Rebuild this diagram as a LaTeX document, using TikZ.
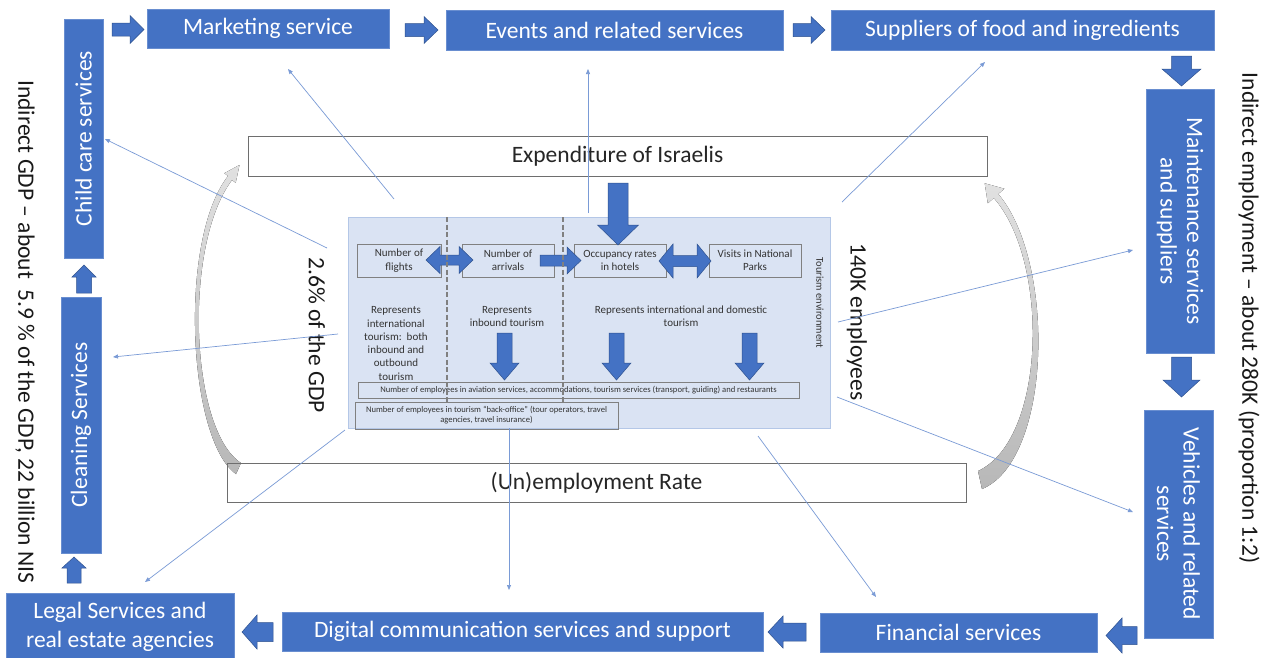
\documentclass[tikz,border=0pt]{standalone}
\usepackage{fontspec}
\setmainfont{Carlito}
\usetikzlibrary{arrows.meta}
\definecolor{boxblue}{HTML}{4472C4}
\definecolor{arrowedge}{HTML}{2F528F}
\definecolor{panelfill}{HTML}{DAE3F3}
\definecolor{paneledge}{HTML}{B4C7E7}
\definecolor{thinblue}{HTML}{7A9BD6}
\definecolor{innergray}{HTML}{808080}
\definecolor{framegray}{HTML}{6E6E6E}
\newcommand{\fBig}{\fontsize{23.5}{27}\selectfont}
\newcommand{\fMid}{\fontsize{11}{13.3}\selectfont}
\newcommand{\fTiny}{\fontsize{8.6}{10}\selectfont}
\newcommand{\fEnv}{\fontsize{10.5}{12}\selectfont}
% block arrows: right, left, down, up, double
\newcommand{\arrR}[6]{\filldraw[blockarrow] (#1,#3-#4) -- (#2-#6,#3-#4) -- (#2-#6,#3-#5) -- (#2,#3) -- (#2-#6,#3+#5) -- (#2-#6,#3+#4) -- (#1,#3+#4) -- cycle;}
\newcommand{\arrL}[6]{\filldraw[blockarrow] (#2,#3-#4) -- (#1+#6,#3-#4) -- (#1+#6,#3-#5) -- (#1,#3) -- (#1+#6,#3+#5) -- (#1+#6,#3+#4) -- (#2,#3+#4) -- cycle;}
\newcommand{\arrD}[6]{\filldraw[blockarrow] (#1-#4,#2) -- (#1-#4,#3-#6) -- (#1-#5,#3-#6) -- (#1,#3) -- (#1+#5,#3-#6) -- (#1+#4,#3-#6) -- (#1+#4,#2) -- cycle;}
\newcommand{\arrU}[6]{\filldraw[blockarrow] (#1-#4,#3) -- (#1-#4,#2+#6) -- (#1-#5,#2+#6) -- (#1,#2) -- (#1+#5,#2+#6) -- (#1+#4,#2+#6) -- (#1+#4,#3) -- cycle;}
\newcommand{\arrLR}[6]{\filldraw[blockarrow] (#1,#3) -- (#1+#6,#3-#5) -- (#1+#6,#3-#4) -- (#2-#6,#3-#4) -- (#2-#6,#3-#5) -- (#2,#3) -- (#2-#6,#3+#5) -- (#2-#6,#3+#4) -- (#1+#6,#3+#4) -- (#1+#6,#3+#5) -- cycle;}
\begin{document}
\begin{tikzpicture}[x=1pt,y=-1pt,
  bluebox/.style={fill=boxblue,draw=boxblue!80!white,line width=0.6pt,text=white,inner sep=0pt,align=center,font=\fBig},
  whitebox/.style={draw=framegray,line width=1pt,inner sep=0pt,text=black!85,font=\fBig},
  innerbox/.style={draw=innergray,line width=0.7pt,inner sep=0pt,align=center,text=black!80,font=\fMid},
  plaintext/.style={inner sep=0pt,align=center,text=black!80,font=\fMid},
  blockarrow/.style={fill=boxblue,draw=arrowedge,line width=0.5pt},
  thinarrow/.style={draw=thinblue,line width=0.7pt,-{Triangle[length=5pt,width=4pt]}},
  sidelabel/.style={inner sep=0pt,font=\fBig,text=black!90},
  dashline/.style={draw=innergray,line width=1.6pt,dash pattern=on 5pt off 2.5pt},
  grayarrow/.style={top color=black!12,middle color=black!4,bottom color=black!28,draw=none}
]
\clip (0,0) rectangle (1274,657);
\fill[white] (0,0) rectangle (1274,657);

% outer chain of service boxes
\node[bluebox,minimum width=242pt,minimum height=39pt] (mkt) at (268,28.5) {Marketing service};
\node[bluebox,minimum width=337pt,minimum height=40pt] (evt) at (614.5,30) {Events and related services};
\node[bluebox,minimum width=383pt,minimum height=40pt] (sup) at (1022.5,30) {Suppliers of food and ingredients};
\node[bluebox,rotate=90,minimum width=239pt,minimum height=39pt] (child) at (83.5,138.5) {Child care services};
\node[bluebox,rotate=90,minimum width=256pt,minimum height=40pt] (clean) at (81,425) {Cleaning Services};
\node[bluebox,minimum width=228pt,minimum height=67pt,font=\fontsize{23.5}{29}\selectfont] (legal) at (120,626.5) {Legal Services and\\real estate agencies};
\node[bluebox,minimum width=481pt,minimum height=39pt] (digi) at (522.5,631.5) {Digital communication services and support};
\node[bluebox,minimum width=277pt,minimum height=39pt] (fin) at (958.5,632.5) {Financial services};
\node[bluebox,rotate=-90,minimum width=264pt,minimum height=68pt,font=\fontsize{23.5}{26.5}\selectfont] (maint) at (1180,221) {Maintenance services\\and suppliers};
\node[bluebox,rotate=-90,minimum width=228pt,minimum height=69pt,font=\fontsize{23.5}{26.5}\selectfont] (veh) at (1178.5,524) {Vehicles and related\\services};

% chain block arrows
\arrR{112}{144}{29.5}{6.5}{14}{14}
\arrR{405}{438}{30}{6.5}{13.5}{14}
\arrR{793}{825}{30}{6.5}{13.5}{14}
\arrD{1181.5}{56}{86}{10}{19.5}{17}
\arrD{1181.5}{357}{397}{10}{18.5}{17}
\arrL{1106}{1137}{635.5}{9}{17.5}{16}
\arrL{768}{806}{632}{9}{16}{15}
\arrL{242}{273}{632}{9.5}{17}{15}
\arrU{74}{557}{583}{7}{12}{11}
\arrU{84}{265}{293}{7.5}{12}{12}

% side labels
\node[sidelabel,rotate=-90] (gdpind) at (25,332) {Indirect GDP – about\ \ 5.9 \% of the GDP, 22 billion NIS};
\node[sidelabel,rotate=-90] (empind) at (1249,318) {Indirect employment – about 280K (proportion 1:2)};
\node[sidelabel,rotate=-90] (gdp) at (317,335) {2.6\% of the GDP};
\node[sidelabel,rotate=-90] (emp140) at (857,322) {140K employees};

% grey curved arrows
\fill[grayarrow] (236,474) .. controls (188,440) and (178,240) .. (228,176) -- (224.3,173.2) -- (239.5,165) -- (235.7,182.8) -- (232,180) .. controls (183,245) and (190,430) .. (241,463) -- cycle;
\fill[grayarrow] (982,489) .. controls (1052,460) and (1056,262) .. (998.3,194) -- (1004.3,188.7) -- (984.7,183.3) -- (987.8,203.3) -- (993.8,198) .. controls (1050,262) and (1046,440) .. (978,471) -- cycle;

% white frames
\node[whitebox,minimum width=739pt,minimum height=40pt] (expd) at (617.5,156) {Expenditure of Israelis};
\node[whitebox,minimum width=739pt,minimum height=39pt] (unemp) at (596.5,482.5) {(Un)employment Rate};

% central panel
\node[fill=panelfill,draw=paneledge,line width=0.8pt,minimum width=482pt,minimum height=211pt,inner sep=0pt] (panel) at (589,322.5) {};
\node[innerbox,minimum width=84pt,minimum height=33pt] (flights) at (399,260.5) {Number of\\flights};
\node[innerbox,minimum width=92pt,minimum height=33pt] (arrivals) at (508,260.5) {Number of\\arrivals};
\node[innerbox,minimum width=92pt,minimum height=33pt] (occ) at (620,260.5) {Occupancy rates\\in hotels};
\node[innerbox,minimum width=92pt,minimum height=33pt] (visits) at (755,260.5) {Visits in National\\Parks};
\node[plaintext] (repint) at (396,343.5) {Represents\\international\\tourism:\ \ both\\inbound and\\outbound\\tourism};
\node[plaintext] (repin) at (507,316.5) {Represents\\inbound tourism};
\node[plaintext] (repdom) at (681,316.5) {Represents international and domestic\\tourism};
\node[innerbox,font=\fTiny,minimum width=441pt,minimum height=16pt] (empbox) at (578.5,390) {Number of employees in aviation services, accommodations, tourism services (transport, guiding) and restaurants};
\node[innerbox,font=\fTiny,minimum width=263pt,minimum height=27pt] (back) at (486.5,415.5) {Number of employees in tourism ``back-office'' (tour operators, travel\\agencies, travel insurance)};
\node[plaintext,font=\fEnv,rotate=-90] (tenv) at (820,303) {Tourism environment};

% panel block arrows
\arrLR{426}{473}{260}{5}{13.5}{14}
\arrR{540}{581}{260.5}{5.5}{13.5}{14}
\arrLR{659}{711}{261}{5.5}{17}{14}
\arrD{618}{183}{245}{10}{20.5}{20}
\arrD{504.5}{333}{380}{7.5}{14.5}{17}
\arrD{616.5}{333}{380}{7.5}{14.5}{17}
\arrD{749.5}{333}{380}{7.5}{14.5}{17}

% dashed separators
\draw[dashline] (447,217) -- (447,402);
\draw[dashline] (563,217) -- (563,402);

% thin connectors
\coordinate (a1) at (394,199);  \coordinate (t1) at (288,69);
\coordinate (a2) at (588,213);  \coordinate (t2) at (588,69);
\coordinate (a3) at (842,202);  \coordinate (t3) at (985,62);
\coordinate (a4) at (327,248);  \coordinate (t4) at (105,139);
\coordinate (a5) at (338,334);  \coordinate (t5) at (113,357);
\coordinate (a6) at (345,430);  \coordinate (t6) at (145,582);
\coordinate (a7) at (509,428);  \coordinate (t7) at (509,590);
\coordinate (a8) at (758,436);  \coordinate (t8) at (876,597);
\coordinate (a9) at (838,322);  \coordinate (t9) at (1133,250);
\coordinate (a10) at (837,397); \coordinate (t10) at (1133,512);
\foreach \i in {1,...,10} {\draw[thinarrow] (a\i) -- (t\i);}
\end{tikzpicture}
\end{document}
